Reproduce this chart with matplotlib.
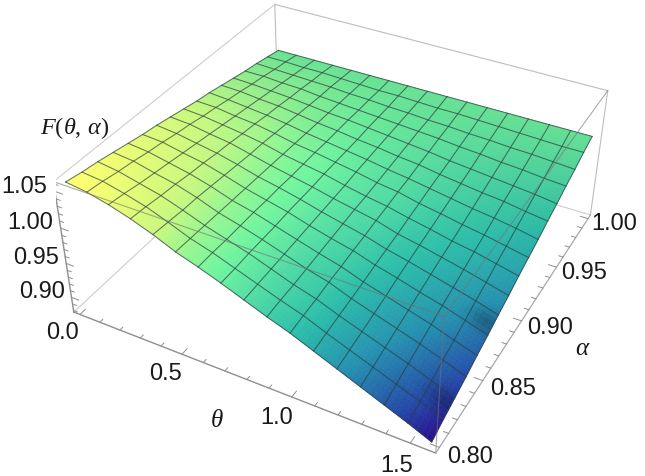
import numpy as np, matplotlib
matplotlib.use('Agg')
import matplotlib.pyplot as plt
from matplotlib.colors import LinearSegmentedColormap
from mpl_toolkits.mplot3d import proj3d

plt.rcParams['mathtext.fontset'] = 'custom'
plt.rcParams['mathtext.rm'] = 'Liberation Serif'
plt.rcParams['mathtext.it'] = 'Liberation Serif:italic'
plt.rcParams['font.family'] = 'Liberation Sans'

W, H = 645, 476
THETA_MAX = np.pi / 2
theta_ticks = [0.0, 0.5, 1.0, 1.5]
alpha_ticks = [0.80, 0.85, 0.90, 0.95, 1.00]
f_ticks = [0.90, 0.95, 1.00, 1.05]
theta_nodes = np.linspace(0, THETA_MAX, 17)
alpha_nodes = np.linspace(0.80, 1.00, 17)

# F(theta, alpha) x 1000: one row per theta node, one column per alpha node
f_table = np.array([
    [1060,1056,1053,1049,1045,1041,1038,1034,1030,1026,1023,1019,1015,1011,1008,1004,1000],
    [1056,1053,1049,1046,1042,1039,1035,1032,1028,1025,1021,1018,1014,1011,1007,1004,1000],
    [1049,1046,1042,1039,1036,1033,1030,1027,1024,1021,1018,1015,1012,1009,1006,1003,1000],
    [1040,1038,1035,1033,1030,1028,1025,1023,1020,1018,1015,1013,1010,1008,1005,1003,1000],
    [1029,1027,1025,1024,1022,1020,1018,1016,1015,1013,1011,1009,1007,1005,1004,1002,1000],
    [1016,1015,1014,1013,1012,1011,1010,1009,1008,1007,1006,1005,1004,1003,1002,1001,1000],
    [1006,1006,1005,1005,1005,1004,1004,1003,1003,1003,1002,1002,1002,1001,1001,1000,1000],
    [ 995, 995, 996, 996, 996, 997, 997, 997, 998, 998, 998, 998, 999, 999, 999,1000,1000],
    [ 983, 984, 985, 986, 987, 988, 989, 990, 991, 993, 994, 995, 996, 997, 998, 999,1000],
    [ 971, 973, 974, 976, 978, 980, 982, 984, 985, 987, 989, 991, 993, 995, 996, 998,1000],
    [ 960, 963, 965, 968, 970, 973, 975, 978, 980, 983, 985, 988, 990, 993, 995, 998,1000],
    [ 947, 950, 953, 956, 959, 963, 966, 969, 973, 976, 980, 983, 986, 990, 993, 997,1000],
    [ 934, 938, 942, 946, 950, 955, 959, 963, 967, 971, 975, 979, 983, 988, 992, 996,1000],
    [ 921, 926, 931, 936, 941, 946, 951, 956, 960, 965, 970, 975, 980, 985, 990, 995,1000],
    [ 908, 914, 920, 926, 932, 938, 943, 949, 955, 960, 966, 972, 977, 983, 989, 994,1000],
    [ 895, 902, 908, 915, 921, 928, 935, 941, 948, 954, 961, 967, 974, 980, 987, 993,1000],
    [ 881, 889, 896, 903, 911, 918, 926, 933, 941, 948, 955, 963, 970, 978, 985, 993,1000],
]) / 1000.0

# Axis box with two percent padding around the plotted range
x0, x1 = -0.02 * THETA_MAX, 1.02 * THETA_MAX
y0, y1 = 0.796, 1.004
z0, z1 = 0.8776, 1.0631
dx, dy, dz = x1 - x0, y1 - y0, z1 - z0

fig = plt.figure(figsize=(W / 100, H / 100), dpi=100)
side = 562.36
ax = fig.add_axes([56.04 / W, -12.46 / H, side / W, side / H], projection='3d', computed_zorder=False)
ax.set_xlim(x0, x1, view_margin=0)
ax.set_ylim(y0, y1, view_margin=0)
ax.set_zlim(z0, z1, view_margin=0)
ax.view_init(elev=35.9249, azim=-61.8178, roll=-0.1666)
ax.set_proj_type('persp', focal_length=0.4325)
ax.set_box_aspect((np.exp(0.9166), np.exp(0.9233), 1), zoom=1)
ax.set_axis_off()

cmap = LinearSegmentedColormap.from_list('surface', [
    (0.00, '#2A0A8C'), (0.11, '#2545A8'), (0.28, '#2590B0'), (0.44, '#2DBFAA'),
    (0.67, '#70F5A0'), (0.83, '#C8F880'), (1.00, '#FFFF6E')])

# Each mesh cell is subdivided so the colour runs smoothly across it
steps = 5
fine = np.linspace(0, 16, 16 * steps + 1)
idx = np.arange(17)
f_fine = np.array([np.interp(fine, idx, row) for row in f_table])
f_fine = np.array([np.interp(fine, idx, col) for col in f_fine.T]).T
T, A = np.meshgrid(np.interp(fine, idx, theta_nodes), np.interp(fine, idx, alpha_nodes), indexing='ij')
colors = cmap((f_fine - 0.881) / (1.06 - 0.881))

# Lighting: the far side of the sheet is a little dimmer, and two soft
# dark spots sit next to the theta = pi/2 rim
light = np.interp(A, [0.90, 1.00], [1.0, 0.92])
for a_spot in (0.819, 0.867):
    light = light * (1 - 0.24 * np.exp(-((T - 1.53) / 0.06) ** 2 - ((A - a_spot) / 0.006) ** 2))
colors[..., :3] *= light[..., None]

# Box edges hidden behind the surface come first
back = '#cdcdcd'
def edge(p, q, color, lw=0.8, z=1):
    ax.plot([p[0], q[0]], [p[1], q[1]], [p[2], q[2]], color=color, lw=lw, zorder=z)

edge((x0, y1, z0), (x0, y1, z1), '#bdbdbd')
edge((x0, y0, z0), (x0, y1, z0), back)
edge((x0, y1, z0), (x1, y1, z0), back)
edge((x0, y0, z1), (x0, y1, z1), back)
edge((x0, y1, z1), (x1, y1, z1), '#bdbdbd')
edge((x1, y1, z0), (x1, y1, z1), '#bdbdbd')

surf = ax.plot_surface(T, A, f_fine, facecolors=colors, rstride=1, cstride=1, shade=False,
                       linewidth=0.4, antialiased=True, zorder=2)
surf.set_edgecolor(colors[:-1, :-1].reshape(-1, 4))

mesh = (0.18, 0.24, 0.24, 0.7)
for i in range(17):
    ax.plot(np.full(17, theta_nodes[i]), alpha_nodes, f_table[i], color=mesh, lw=0.75, zorder=3)
    ax.plot(theta_nodes, np.full(17, alpha_nodes[i]), f_table[:, i], color=mesh, lw=0.75, zorder=3)

# Edges nearest the viewer stay visible across the surface
near = (0.45, 0.45, 0.45, 0.6)
edge((x0, y0, z1), (x1, y0, z1), near, z=4)
edge((x1, y0, z0), (x1, y0, z1), near, z=4)
edge((x1, y0, z1), (x1, y1, z1), near, z=4)

axis_col = '#8f8f8f'
edge((x0, y0, z0), (x0, y0, z1), axis_col, lw=1.0, z=4)
edge((x0, y0, z0), (x1, y0, z0), axis_col, lw=1.0, z=4)
edge((x1, y0, z0), (x1, y1, z0), '#a8a8a8', lw=0.9, z=4)

def tick(p, d, major):
    scale = 0.022 if major else 0.012
    q = [p[0] + d[0] * dx * scale, p[1] + d[1] * dy * scale, p[2] + d[2] * dz * scale]
    edge(p, q, axis_col, lw=0.7, z=4)

for k in range(0, 16):
    tick((k / 10, y0, z0), (0, 1, 0), k % 5 == 0)
for k in range(80, 101):
    tick((x1, k / 100, z0), (-1, 0, 0), k % 5 == 0)
for k in range(88, 107):
    tick((x0, y0, k / 100), (1, 0, 0), k % 5 == 0)

# Tick labels go through the 3D projection to plain axes text
M = ax.get_proj()
def label(x, y, z, s):
    px, py, _ = proj3d.proj_transform(x, y, z, M)
    ax.text2D(px, py, s, transform=ax.transData, fontsize=17, ha='center', va='center',
              color='#1a1a1a', zorder=5)

for v in theta_ticks:
    label(v + 0.004 * dx, y0 - 0.075 * dy, z0, f'{v:.1f}')
for v in alpha_ticks:
    label(x1 + 0.075 * dx, v, z0 + 0.02 * dz, f'{v:.2f}')
for v in f_ticks:
    label(x0 - 0.095 * dx, y0, v - 0.05 * dz, f'{v:.2f}')

fig.text(75 / W, 1 - 128 / H, r'$F(\theta,\,\alpha)$', fontsize=17.5, ha='center', va='center', color='#1a1a1a')
fig.text(217 / W, 1 - 420 / H, r'$\theta$', fontsize=18, ha='center', va='center', color='#1a1a1a')
fig.text(583 / W, 1 - 348 / H, r'$\alpha$', fontsize=18, ha='center', va='center', color='#1a1a1a')

fig.savefig('out.png', dpi=100)
